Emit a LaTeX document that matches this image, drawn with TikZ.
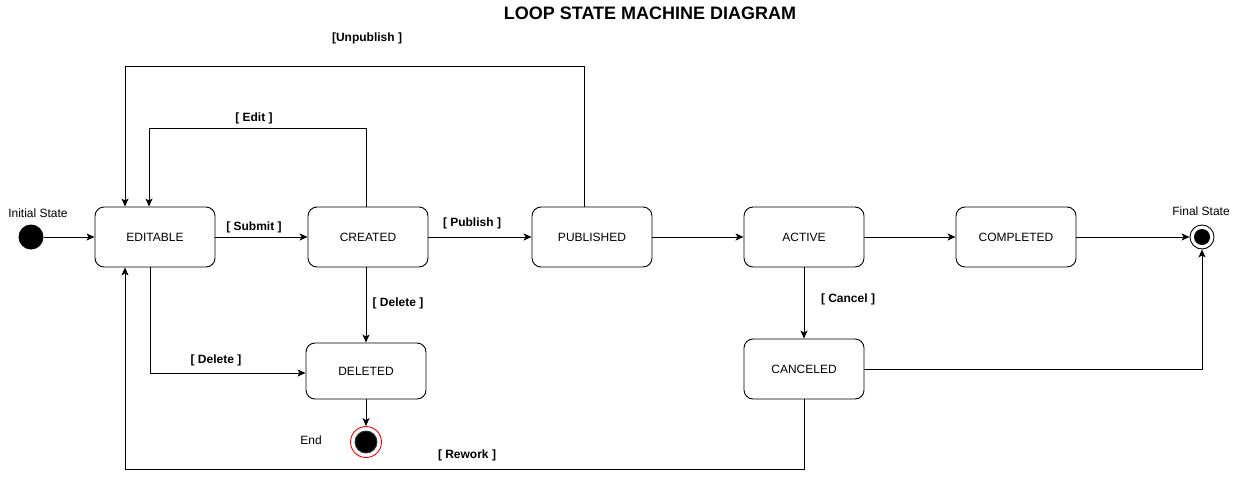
\documentclass[tikz,border=0pt]{standalone}
\usepackage{fontspec}
\setmainfont{Liberation Sans}
\usetikzlibrary{arrows.meta}

\begin{document}
\begin{tikzpicture}[x=1pt,y=-1pt,
        state/.style={draw, line width=0.9pt, rounded corners=9pt, minimum width=120pt, minimum height=60pt, font=\fontsize{12}{14}\selectfont},
        guard/.style={font=\fontsize{12}{14}\selectfont\bfseries},
        plain/.style={font=\fontsize{12}{14}\selectfont},
        arr/.style={draw, line width=0.9pt, -{Stealth[length=8pt,width=7pt,inset=2pt]}}]
        \useasboundingbox (0,0) rectangle (1241,479);
        % Title
        \node[font=\fontsize{18}{20}\selectfont\bfseries] (title) at (650,13) {LOOP STATE MACHINE DIAGRAM};

        % Pseudo states
        \node[circle, fill=black, minimum size=25pt, inner sep=0pt] (init) at (31,237) {};
        \node[plain] (initlbl) at (38,213) {Initial State};
        \node[circle, draw, line width=0.9pt, minimum size=24pt, inner sep=0pt,
              path picture={\fill (path picture bounding box.center) circle (8pt);}] (final) at (1202,237) {};
        \node[plain] (finallbl) at (1201,211) {Final State};
        \node[circle, draw=red, line width=0.9pt, minimum size=31pt, inner sep=0pt,
              path picture={\filldraw[fill=black, draw=black!80] (path picture bounding box.center) circle (11pt);}] (end) at (366,442) {};
        \node[plain] (endlbl) at (311,440) {End};

        % States
        \node[state] (editable) at (155,237) {EDITABLE};
        \node[state] (created) at (368,237) {CREATED};
        \node[state] (published) at (592,237) {PUBLISHED};
        \node[state] (active) at (804,237) {ACTIVE};
        \node[state] (completed) at (1016,237) {COMPLETED};
        \node[state, minimum height=56pt] (deleted) at (366,371) {DELETED};
        \node[state] (canceled) at (804,369) {CANCELED};

        % Corner points of the loops
        \coordinate (edittop) at (149,128);
        \coordinate (unpubtop) at (125,66);
        \coordinate (reworkbot) at (125,469);

        % Straight transitions
        \draw[arr] (init) -- (editable);
        \draw[arr] (editable) -- (created);
        \draw[arr] (created) -- (published);
        \draw[arr] (published) -- (active);
        \draw[arr] (active) -- (completed);
        \draw[arr] (completed) -- (final);
        \draw[arr] ([xshift=-2pt]created.south) -- ([xshift=0pt]deleted.north);
        \draw[arr] (deleted) -- (end);
        \draw[arr] (active) -- (canceled);

        % Loops back
        \draw[arr] ([xshift=-2pt]created.north) |- (edittop) -- ([xshift=-6pt]editable.north);
        \draw[arr] ([xshift=-8pt]published.north) |- (unpubtop) -- ([xshift=-30pt]editable.north);
        \draw[arr] ([xshift=-5pt]editable.south) |- ([yshift=-2pt]deleted.west);
        \draw[arr] (canceled.east) -| (final.south);
        \draw[arr] (canceled.south) |- (reworkbot) -- ([xshift=-30pt]editable.south);

        % Guards
        \node[guard] (submit) at (254,227) {[ Submit ]};
        \node[guard] (publish) at (472,223) {[ Publish ]};
        \node[guard] (edit) at (254,118) {[ Edit ]};
        \node[guard] (unpublish) at (367,38) {[Unpublish ]};
        \node[guard] (delete1) at (398,303) {[ Delete ]};
        \node[guard] (delete2) at (216,360) {[ Delete ]};
        \node[guard] (cancel) at (848,299) {[ Cancel ]};
        \node[guard] (rework) at (467,455) {[ Rework ]};
    \end{tikzpicture}
\end{document}
